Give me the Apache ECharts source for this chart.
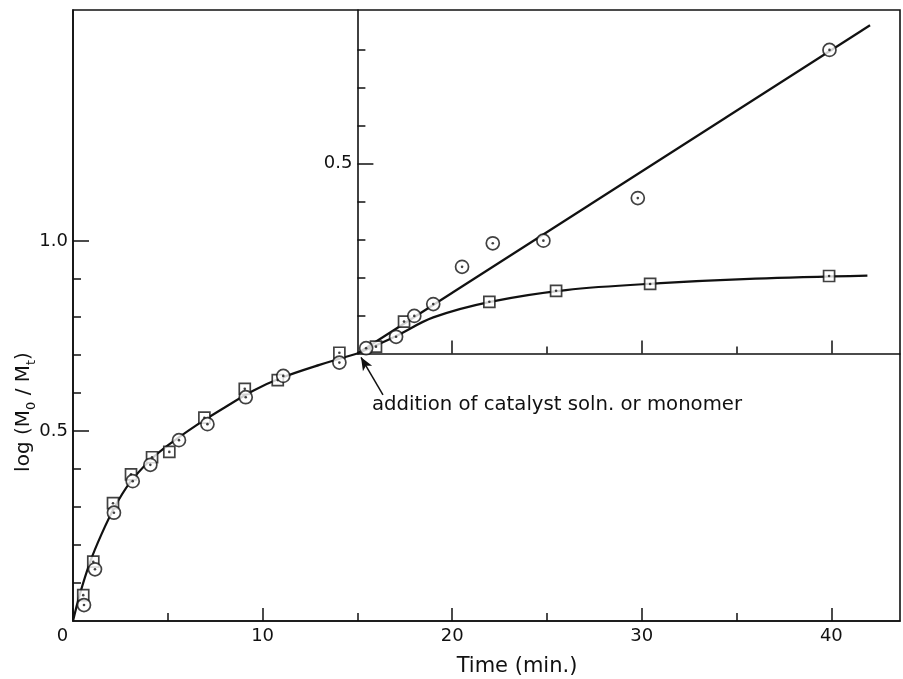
<!DOCTYPE html>
<html>
<head>
<meta charset="utf-8">
<script src="https://cdn.jsdelivr.net/npm/echarts@6/dist/echarts.min.js"></script>
<style>
  html, body { margin: 0; padding: 0; background: #fff; }
  #chart { width: 903px; height: 679px; }
</style>
</head>
<body>
<div id="chart"></div>
<script>
// ---- Before the addition: time (min.) and log(M0/Mt) ----
const preSquareTime  = [0.54, 1.07, 2.11, 3.06, 4.17, 5.08, 6.93, 9.06, 10.80, 14.05];
const preSquareValue = [0.068, 0.156, 0.310, 0.386, 0.431, 0.445, 0.535, 0.611, 0.634, 0.706];
const preCircleTime  = [0.58, 1.16, 2.16, 3.15, 4.08, 5.59, 7.09, 9.11, 11.09, 14.05];
const preCircleValue = [0.042, 0.136, 0.285, 0.368, 0.411, 0.476, 0.518, 0.589, 0.645, 0.680];
const preCurveTime   = [0, 0.37, 0.9, 1.5, 2.2, 3, 4, 5, 6.5, 8, 9.5, 11, 13, 15];
const preCurveValue  = [0, 0.072, 0.155, 0.228, 0.300, 0.364, 0.42, 0.462, 0.515, 0.562, 0.606, 0.64, 0.674, 0.704];

// ---- After the addition (inset scale, starting again from 0 at 15 min.) ----
const postSquareTime  = [15.98, 17.46, 21.96, 25.48, 30.44, 39.88];
const postSquareValue = [0.018, 0.084, 0.136, 0.165, 0.183, 0.204];
const postCircleTime  = [15.46, 17.04, 18.0, 19.0, 20.52, 22.14, 24.81, 29.79, 39.9];
const postCircleValue = [0.014, 0.044, 0.099, 0.130, 0.228, 0.290, 0.297, 0.409, 0.799];
const postLineTime    = [15, 42.04];
const postLineValue   = [0, 0.864];
const postCurveTime   = [15, 17, 19, 22, 26, 31, 36, 41.9];
const postCurveValue  = [0, 0.045, 0.095, 0.136, 0.167, 0.185, 0.197, 0.205];

// ---- Axis ticks and labels ----
const timeMajorTicks  = [0, 10, 20, 30, 40];
const timeMinorTicks  = [5, 15, 25, 35];
const timeLabels      = [0, 10, 20, 30, 40];
const mainMajorTicks  = [0.5, 1.0];
const mainMinorTicks  = [0.1, 0.2, 0.3, 0.4, 0.6, 0.7, 0.8, 0.9];
const mainLabels      = [0.5, 1.0];
const insetTimeMajor  = [20, 30, 40];
const insetTimeMinor  = [25, 35];
const insetMajorTicks = [0.5];
const insetMinorTicks = [0.1, 0.2, 0.3, 0.4, 0.6, 0.7, 0.8];
const insetLabels     = [0.5];

const arrowFrom = [16.35, 0.595];
const arrowTo   = [15.19, 0.694];

const INK = '#111';
const FONT = 'DejaVu Sans';
const pairs = (xs, ys) => xs.map((x, i) => [x, ys[i]]);

const axisLineOn = { show: true, onZero: false, lineStyle: { color: INK, width: 1.6 } };
const axisLineOff = { show: false, onZero: false };
const noSplit = { show: false };
const tick = (values, length) => ({
  show: true, inside: true, length: length, customValues: values,
  lineStyle: { color: INK, width: 1.5 }
});
const noLabel = { show: false };

const chart = echarts.init(document.getElementById('chart'), null, { renderer: 'canvas' });

const X_MAX = 43.62;
const Y_MAX = 1.608;
const INSET_Y_MAX = 0.904;

const curveStyle = { color: INK, width: 2.2 };
const openMark = { color: '#fff', borderColor: INK, borderWidth: 1.7 };

chart.setOption({
  animation: false,
  backgroundColor: '#fff',
  grid: [
    { left: 73, top: 10, width: 827, height: 611, show: true, borderColor: INK, borderWidth: 1.6, backgroundColor: 'transparent' },
    { left: 357.4, top: 10, width: 542.6, height: 343.5, show: false }
  ],
  xAxis: [
    {
      gridIndex: 0, type: 'value', position: 'bottom', min: 0, max: X_MAX,
      axisLine: axisLineOn, splitLine: noSplit,
      axisTick: tick(timeMajorTicks, 13),
      axisLabel: {
        customValues: timeLabels, margin: 6, color: INK, fontSize: 18, fontFamily: FONT,
        formatter: v => (v === 0 ? '{z|0}' : String(v)),
        rich: { z: { fontSize: 18, fontFamily: FONT, color: INK, padding: [0, 21, 0, 0] } }
      }
    },
    {
      gridIndex: 0, type: 'value', position: 'bottom', min: 0, max: X_MAX,
      axisLine: axisLineOff, splitLine: noSplit,
      axisTick: tick(timeMinorTicks, 8), axisLabel: noLabel
    },
    {
      gridIndex: 1, type: 'value', position: 'bottom', min: 15, max: X_MAX,
      axisLine: axisLineOn, splitLine: noSplit,
      axisTick: tick(insetTimeMajor, 13), axisLabel: noLabel
    },
    {
      gridIndex: 1, type: 'value', position: 'bottom', min: 15, max: X_MAX,
      axisLine: axisLineOff, splitLine: noSplit,
      axisTick: tick(insetTimeMinor, 7), axisLabel: noLabel
    }
  ],
  yAxis: [
    {
      gridIndex: 0, type: 'value', position: 'left', min: 0, max: Y_MAX,
      axisLine: axisLineOn, splitLine: noSplit,
      axisTick: tick(mainMajorTicks, 16),
      axisLabel: { customValues: mainLabels, margin: 5, color: INK, fontSize: 18, fontFamily: FONT, formatter: v => v.toFixed(1) }
    },
    {
      gridIndex: 0, type: 'value', position: 'left', min: 0, max: Y_MAX,
      axisLine: axisLineOff, splitLine: noSplit,
      axisTick: tick(mainMinorTicks, 8), axisLabel: noLabel
    },
    {
      gridIndex: 1, type: 'value', position: 'left', min: 0, max: INSET_Y_MAX,
      axisLine: axisLineOn, splitLine: noSplit,
      axisTick: tick(insetMajorTicks, 16),
      axisLabel: { customValues: insetLabels, margin: 5, color: INK, fontSize: 18, fontFamily: FONT, formatter: v => v.toFixed(1) }
    },
    {
      gridIndex: 1, type: 'value', position: 'left', min: 0, max: INSET_Y_MAX,
      axisLine: axisLineOff, splitLine: noSplit,
      axisTick: tick(insetMinorTicks, 8), axisLabel: noLabel
    }
  ],
  series: [
    // fitted curve before the addition, with the arrow marking the addition
    {
      type: 'line', xAxisIndex: 0, yAxisIndex: 0, data: pairs(preCurveTime, preCurveValue),
      smooth: 0.35, symbol: 'none', clip: false, z: 2, lineStyle: curveStyle,
      markLine: {
        silent: true, animation: false, symbol: ['none', 'arrow'], symbolSize: [8, 13],
        lineStyle: { color: INK, width: 1.5, type: 'solid' }, label: { show: false },
        emphasis: { disabled: true },
        data: [[{ coord: arrowFrom }, { coord: arrowTo }]]
      }
    },
    // straight line and levelling curve after the addition
    {
      type: 'line', xAxisIndex: 2, yAxisIndex: 2, data: pairs(postLineTime, postLineValue),
      symbol: 'none', clip: false, z: 2, lineStyle: curveStyle
    },
    {
      type: 'line', xAxisIndex: 2, yAxisIndex: 2, data: pairs(postCurveTime, postCurveValue),
      smooth: 0.35, symbol: 'none', clip: false, z: 2, lineStyle: curveStyle
    },
    // squares
    {
      type: 'scatter', xAxisIndex: 0, yAxisIndex: 0, data: pairs(preSquareTime, preSquareValue),
      symbol: 'rect', symbolSize: 11, z: 3, itemStyle: openMark
    },
    {
      type: 'scatter', xAxisIndex: 2, yAxisIndex: 2, data: pairs(postSquareTime, postSquareValue),
      symbol: 'rect', symbolSize: 11, z: 3, itemStyle: openMark
    },
    {
      type: 'scatter', xAxisIndex: 0, yAxisIndex: 0, data: pairs(preSquareTime, preSquareValue),
      symbol: 'circle', symbolSize: 2.6, z: 4, itemStyle: { color: INK }
    },
    {
      type: 'scatter', xAxisIndex: 2, yAxisIndex: 2, data: pairs(postSquareTime, postSquareValue),
      symbol: 'circle', symbolSize: 2.6, z: 4, itemStyle: { color: INK }
    },
    // circles
    {
      type: 'scatter', xAxisIndex: 0, yAxisIndex: 0, data: pairs(preCircleTime, preCircleValue),
      symbol: 'circle', symbolSize: 13, z: 5, itemStyle: openMark
    },
    {
      type: 'scatter', xAxisIndex: 2, yAxisIndex: 2, data: pairs(postCircleTime, postCircleValue),
      symbol: 'circle', symbolSize: 13, z: 5, itemStyle: openMark
    },
    {
      type: 'scatter', xAxisIndex: 0, yAxisIndex: 0, data: pairs(preCircleTime, preCircleValue),
      symbol: 'circle', symbolSize: 2.6, z: 6, itemStyle: { color: INK }
    },
    {
      type: 'scatter', xAxisIndex: 2, yAxisIndex: 2, data: pairs(postCircleTime, postCircleValue),
      symbol: 'circle', symbolSize: 2.6, z: 6, itemStyle: { color: INK }
    }
  ],
  graphic: [
    {
      type: 'text', x: 517, y: 667, silent: true,
      style: { text: 'Time (min.)', align: 'center', verticalAlign: 'middle', fill: INK, fontSize: 21, fontFamily: FONT }
    },
    {
      type: 'text', x: 24, y: 412, rotation: Math.PI / 2, silent: true,
      style: {
        text: 'log (M{s|0} / M{s|t})', align: 'center', verticalAlign: 'middle',
        fill: INK, fontSize: 20, fontFamily: FONT, lineHeight: 28,
        rich: { s: { fontSize: 13, fontFamily: FONT, fill: INK, lineHeight: 13, verticalAlign: 'bottom' } }
      }
    },
    {
      type: 'text', x: 372, y: 405, silent: true,
      style: { text: 'addition of catalyst soln. or monomer', align: 'left', verticalAlign: 'middle', fill: INK, fontSize: 19.7, fontFamily: FONT }
    }
  ]
});
</script>
</body>
</html>
